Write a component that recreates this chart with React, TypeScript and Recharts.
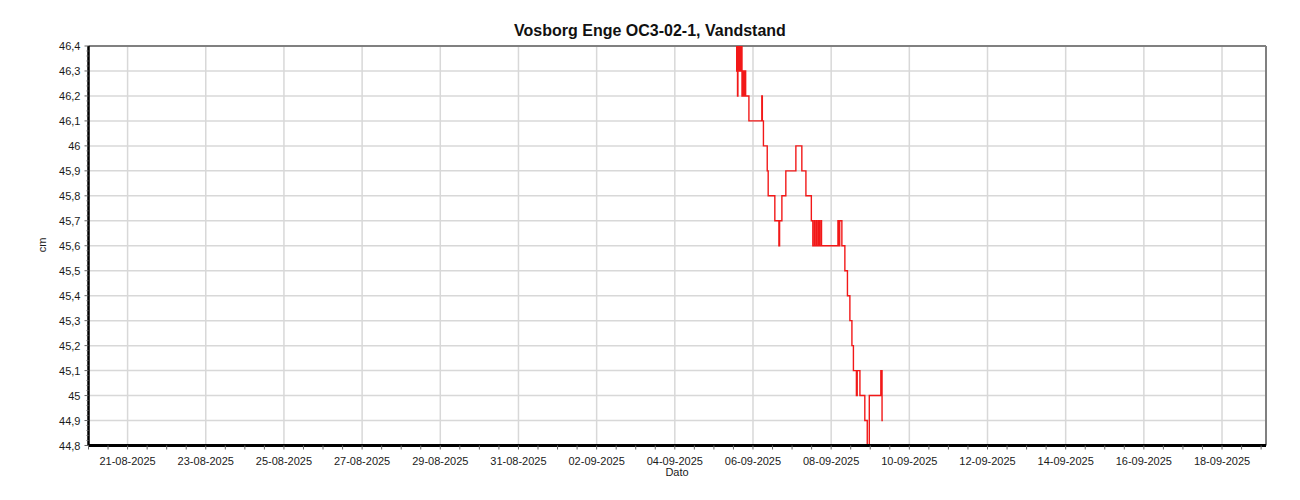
import React from "react";
import { LineChart, Line, XAxis, YAxis, ReferenceLine } from "recharts";

// readings of the logger (local time, cm)
const times = [
	"2025-09-05 13:45", "2025-09-05 14:00", "2025-09-05 14:15", "2025-09-05 14:30",
	"2025-09-05 14:45", "2025-09-05 15:15", "2025-09-05 15:30", "2025-09-05 16:00",
	"2025-09-05 16:15", "2025-09-05 16:45", "2025-09-05 17:00", "2025-09-05 17:15",
	"2025-09-05 17:45", "2025-09-05 18:20", "2025-09-05 18:45", "2025-09-05 19:30",
	"2025-09-05 21:30", "2025-09-06 05:25", "2025-09-06 05:45", "2025-09-06 06:25",
	"2025-09-06 08:45", "2025-09-06 09:20", "2025-09-06 13:25", "2025-09-06 15:55",
	"2025-09-06 16:20", "2025-09-06 17:45", "2025-09-06 20:10", "2025-09-07 02:20",
	"2025-09-07 06:00", "2025-09-07 08:30", "2025-09-07 11:50", "2025-09-07 12:45",
	"2025-09-07 13:40", "2025-09-07 14:05", "2025-09-07 15:00", "2025-09-07 15:25",
	"2025-09-07 16:20", "2025-09-07 16:45", "2025-09-07 17:40", "2025-09-07 18:05",
	"2025-09-08 04:10", "2025-09-08 04:40", "2025-09-08 05:15", "2025-09-08 06:35",
	"2025-09-08 08:25", "2025-09-08 10:00", "2025-09-08 11:30", "2025-09-08 12:45",
	"2025-09-08 13:40", "2025-09-08 15:30", "2025-09-08 16:00", "2025-09-08 17:40",
	"2025-09-08 20:40", "2025-09-08 22:10", "2025-09-08 23:25", "2025-09-09 06:30",
	"2025-09-09 07:15", "2025-09-09 07:45",
];

const levels = [
	46.4, 46.3, 46.4, 46.2,
	46.4, 46.3, 46.4, 46.3,
	46.4, 46.3, 46.4, 46.2,
	46.3, 46.2, 46.3, 46.2,
	46.1, 46.2, 46.1, 46.0,
	45.9, 45.8, 45.7, 45.6,
	45.7, 45.8, 45.9, 46.0,
	45.9, 45.8, 45.7, 45.6,
	45.7, 45.6, 45.7, 45.6,
	45.7, 45.6, 45.7, 45.6,
	45.7, 45.6, 45.7, 45.6,
	45.5, 45.4, 45.3, 45.2,
	45.1, 45.0, 45.1, 45.0,
	44.9, 44.8, 45.0, 45.1,
	44.9, 44.9,
];

const dateLabels = [
	"21-08-2025", "23-08-2025", "25-08-2025", "27-08-2025", "29-08-2025",
	"31-08-2025", "02-09-2025", "04-09-2025", "06-09-2025", "08-09-2025",
	"10-09-2025", "12-09-2025", "14-09-2025", "16-09-2025", "18-09-2025",
];

const yLabels = [
	44.8, 44.9, 45.0, 45.1, 45.2, 45.3, 45.4, 45.5,
	45.6, 45.7, 45.8, 45.9, 46.0, 46.1, 46.2, 46.3, 46.4,
];

const HOUR = 3600 * 1000;

const parseTime = (s: string) => {
	const [d, h] = s.split(" ");
	const [yy, mm, dd] = d.split("-").map(Number);
	const [hh, mi] = h.split(":").map(Number);
	return Date.UTC(yy, mm - 1, dd, hh, mi);
};
const parseLabel = (s: string) => {
	const [dd, mm, yy] = s.split("-").map(Number);
	return Date.UTC(yy, mm - 1, dd);
};

const data = times.map((t, i) => ({ t: parseTime(t), v: levels[i] }));

const xMin = Date.UTC(2025, 7, 20);
const xMax = Date.UTC(2025, 8, 19, 3);
const majorX = dateLabels.map(parseLabel);
const labelByTime: Record<number, string> = {};
dateLabels.forEach((l, i) => (labelByTime[majorX[i]] = l));

// minor ticks every 12 hours, minor y ticks every 0.02
const xTicks: number[] = [];
for (let t = xMin; t <= xMax; t += 12 * HOUR) xTicks.push(t);

const yTicks: number[] = [];
for (let i = 0; i <= 80; i++) yTicks.push(Math.round((44.8 + i * 0.02) * 100) / 100);
const isMajorY = (v: number) => yLabels.some((m) => Math.abs(m - v) < 1e-6);

const fmtY = (v: number) => String(Number(v.toFixed(1))).replace(".", ",");

const font = "'Liberation Sans', Arial, sans-serif";
const textColor = "#1a1a1a";
const gridColor = "#d8d8d8";

const YTick = (props: any) => {
	const { x, y, payload } = props;
	const major = isMajorY(payload.value);
	return (
		<g>
			<line x1={x - (major ? 4 : 2)} x2={x} y1={y} y2={y} stroke="#666" strokeWidth={1} />
			{major && (
				<text x={x - 8} y={y} dy={4} textAnchor="end" fontSize={11} fontFamily={font} fill={textColor}>
					{fmtY(payload.value)}
				</text>
			)}
		</g>
	);
};

const XTick = (props: any) => {
	const { x, y, payload } = props;
	const label = labelByTime[payload.value];
	return (
		<g>
			<line x1={x} x2={x} y1={y} y2={y + 4} stroke="#666" strokeWidth={1} />
			{label && (
				<text x={x} y={y + 19} textAnchor="middle" fontSize={11} fontFamily={font} fill={textColor}>
					{label}
				</text>
			)}
		</g>
	);
};

export default function App() {
	return (
		<div style={{ position: "absolute", left: 0, top: 0, width: 1300, height: 500, background: "#fff" }}>
			<div
				style={{
					position: "absolute",
					top: 22,
					left: 0,
					width: 1300,
					textAlign: "center",
					fontFamily: font,
					fontWeight: "bold",
					fontSize: 16,
					color: "#111",
				}}
			>
				Vosborg Enge OC3-02-1, Vandstand
			</div>
			<div
				style={{
					position: "absolute",
					top: 466,
					left: 88,
					width: 1178,
					textAlign: "center",
					fontFamily: font,
					fontSize: 11,
					color: textColor,
				}}
			>
				Dato
			</div>
			<div
				style={{
					position: "absolute",
					left: 42,
					top: 245,
					transform: "translate(-50%, -50%) rotate(-90deg)",
					fontFamily: font,
					fontSize: 11,
					color: textColor,
				}}
			>
				cm
			</div>
			<LineChart
				width={1300}
				height={500}
				data={data}
				margin={{ top: 46, right: 34, bottom: 24.5, left: 0 }}
			>
				<XAxis
					dataKey="t"
					type="number"
					domain={[xMin, xMax]}
					allowDataOverflow
					ticks={xTicks}
					interval={0}
					tick={<XTick />}
					tickLine={false}
					tickSize={0}
					tickMargin={0}
					height={30}
					axisLine={{ stroke: "#000", strokeWidth: 3 }}
				/>
				<YAxis
					type="number"
					domain={[44.8, 46.4]}
					allowDataOverflow
					ticks={yTicks}
					interval={0}
					tick={<YTick />}
					tickLine={false}
					tickSize={0}
					tickMargin={0}
					width={88.5}
					axisLine={{ stroke: "#000", strokeWidth: 2.5 }}
				/>
				{yLabels.slice(1, -1).map((v) => (
					<ReferenceLine key={"h" + v} y={v} stroke={gridColor} strokeWidth={1.5} />
				))}
				{majorX.map((t) => (
					<ReferenceLine key={"v" + t} x={t} stroke={gridColor} strokeWidth={1.5} />
				))}
				<ReferenceLine y={46.4} stroke="#808080" strokeWidth={2} />
				<ReferenceLine x={xMax} stroke="#808080" strokeWidth={2} />
				<Line
					dataKey="v"
					type="stepAfter"
					stroke="#f21818"
					strokeWidth={1.4}
					dot={false}
					isAnimationActive={false}
				/>
			</LineChart>
		</div>
	);
}
